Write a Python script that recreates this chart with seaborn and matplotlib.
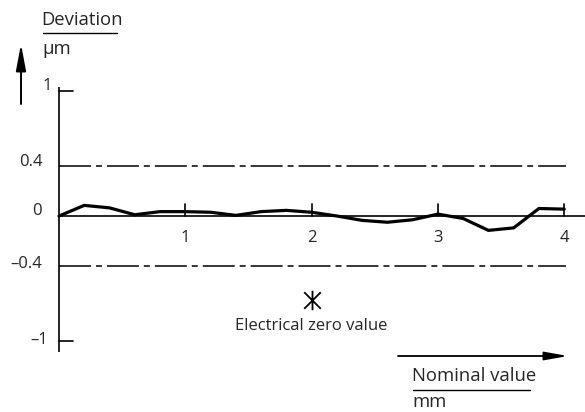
import matplotlib
matplotlib.use("Agg")
import matplotlib.pyplot as plt
from matplotlib.path import Path
import seaborn as sns
import pandas as pd

# ---- data ----
nominal_mm = [0.0, 0.2, 0.4, 0.6, 0.8, 1.0, 1.2, 1.4, 1.6, 1.8, 2.0,
              2.2, 2.4, 2.6, 2.8, 3.0, 3.2, 3.4, 3.6, 3.8, 4.0]
deviation_um = [0.0, 0.085, 0.065, 0.01, 0.035, 0.035, 0.03, 0.005, 0.035, 0.045, 0.03,
                0.0, -0.035, -0.05, -0.03, 0.015, -0.02, -0.115, -0.095, 0.06, 0.055]
limits_um = [0.4, -0.4]
x_ticks = [1, 2, 3, 4]
x_tick_labels = ["1", "2", "3", "4"]
y_ticks = [1, 0.4, 0, -0.4, -1]
y_tick_labels = ["1", "0.4", "0", "–0.4", "–1"]
electrical_zero = (2.0, -0.67)

sns.set_style("white")
plt.rcParams['font.family'] = ['Open Sans', 'DejaVu Sans']
plt.rcParams['lines.scale_dashes'] = False

fig = plt.figure(figsize=(5.85, 4.12), dpi=100)
ax = fig.add_axes([0, 0, 1, 1])
PX_X = 126.3
PX_Y = 125.0
X0, Y0 = 59, 216
ax.set_xlim(-X0 / PX_X, (585 - X0) / PX_X)
ax.set_ylim((Y0 - 412) / PX_Y, Y0 / PX_Y)
ax.axis('off')

def dx(px):
    return (px - X0) / PX_X

def dy(py):
    return (Y0 - py) / PX_Y

k = 'black'
lw_ax = 1.2

# axes lines
ax.plot([0, 0], [dy(87), dy(352)], color=k, lw=lw_ax, solid_capstyle='butt')
ax.plot([0, dx(585)], [0, 0], color=k, lw=lw_ax, solid_capstyle='butt')

# y ticks (1, -1) to the right of axis
for v in [1, -1]:
    ax.plot([0, 14 / PX_X], [v, v], color=k, lw=lw_ax)
# x ticks upward
for v in x_ticks:
    ax.plot([v, v], [0, 12 / PX_Y], color=k, lw=lw_ax)

# limit lines (dash-dot)
for v in limits_um:
    ax.plot([0, dx(566)], [v, v], color=k, lw=1.1,
            dashes=(23, 3.6, 4.3, 3.6))

# curve
df = pd.DataFrame({"x": nominal_mm, "y": deviation_um})
sns.lineplot(data=df, x="x", y="y", ax=ax, color=k, lw=2.3, legend=False)

# tick labels
fs = 12
for v, lab in zip(x_ticks, x_tick_labels):
    ax.text(v, dy(238), lab, ha='center', va='center', fontsize=fs)
ylab_pos = {1: (52, 86), 0.4: (43, 162), 0: (42, 211), -0.4: (42, 264), -1: (48, 340)}
for v, lab in zip(y_ticks, y_tick_labels):
    px, py = ylab_pos[v]
    ax.text(dx(px), dy(py), lab, ha='right', va='center', fontsize=fs)

# electrical zero: X with vertical stroke
star = Path([(0, -1), (0, 1), (-0.85, -0.85), (0.85, 0.85), (-0.85, 0.85), (0.85, -0.85)],
            [Path.MOVETO, Path.LINETO, Path.MOVETO, Path.LINETO, Path.MOVETO, Path.LINETO])
ax.plot([electrical_zero[0]], [electrical_zero[1]], linestyle='none', marker=star,
        markersize=14, markeredgecolor=k, markerfacecolor='none', markeredgewidth=1.3)
ax.text(electrical_zero[0], dy(326), "Electrical zero value", ha='center',
        va='center', fontsize=fs)

# y axis arrow
ax.annotate("", xy=(dx(21), dy(44)), xytext=(dx(21), dy(104)),
            arrowprops=dict(arrowstyle='-|>,head_length=1.6,head_width=0.3',
                            color=k, lw=1.4, shrinkA=0, shrinkB=0))
# x axis arrow
ax.annotate("", xy=(dx(568), dy(356)), xytext=(dx(398), dy(356)),
            arrowprops=dict(arrowstyle='-|>,head_length=1.4,head_width=0.25',
                            color=k, lw=1.3, shrinkA=0, shrinkB=0))

# axis titles
fs_t = 13.3
ax.text(dx(41), dy(20), "Deviation", ha='left', va='center', fontsize=fs_t)
ax.plot([dx(43), dx(117)], [dy(33), dy(33)], color=k, lw=1.0)
ax.text(dx(42), dy(49), "µm", ha='left', va='center', fontsize=fs_t)

ax.text(dx(412), dy(376), "Nominal value", ha='left', va='center', fontsize=fs_t)
ax.plot([dx(413), dx(530)], [dy(390), dy(390)], color=k, lw=1.0)
ax.text(dx(412), dy(402), "mm", ha='left', va='center', fontsize=fs_t)

fig.savefig("out.png", dpi=100)
